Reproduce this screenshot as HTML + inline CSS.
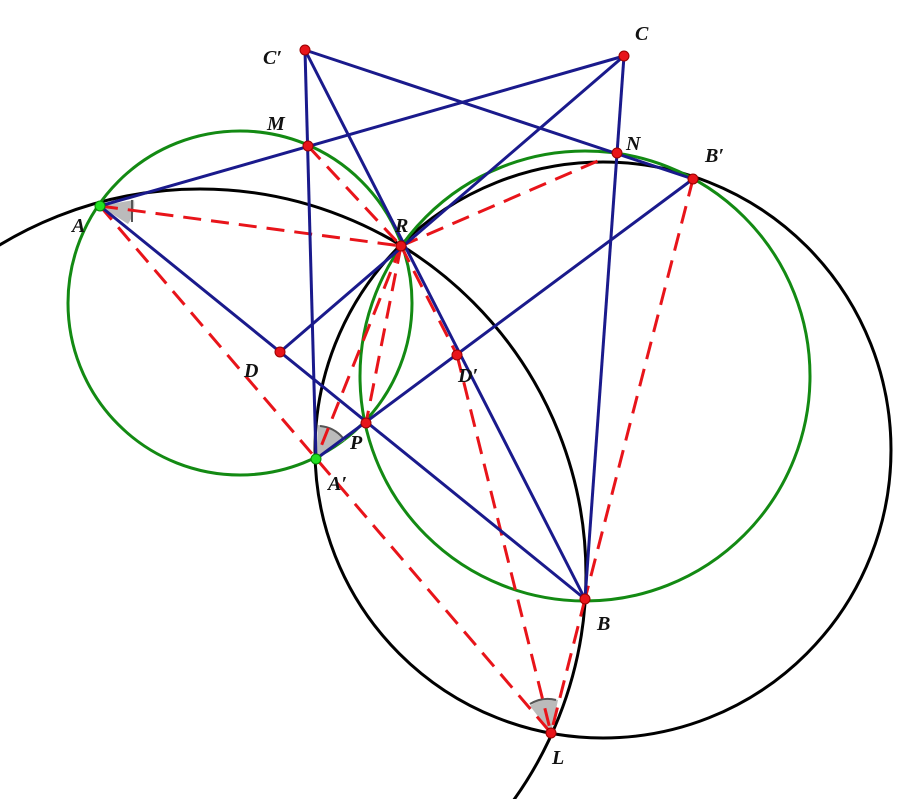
<!DOCTYPE html>
<html><head><meta charset="utf-8"><style>html,body{margin:0;padding:0;background:#fff;width:898px;height:799px;overflow:hidden}svg{display:block}</style></head>
<body>
<svg width="898" height="799" viewBox="0 0 898 799" xmlns="http://www.w3.org/2000/svg">
<g fill="none" stroke-width="3">
<circle cx="200" cy="575" r="386" stroke="#000"/>
<circle cx="603" cy="450" r="288" stroke="#000"/>
<circle cx="240" cy="303" r="172" stroke="#138a13"/>
<circle cx="585" cy="376" r="225" stroke="#138a13"/>
</g>
<g fill="#bbb" stroke="#555" stroke-width="2">
<path d="M100,206 L134,200 A34,34 0 0 1 128,224 Z" stroke="none"/>
<path d="M132,200 L132,222" />
<path d="M316,459 L318,425 A34,34 0 0 1 345,440 Z" stroke="none"/>
<path d="M320,426 A34,34 0 0 1 343,438"/>
<path d="M551,733 L530,706 A34,34 0 0 1 558,700 Z" stroke="none"/>
<path d="M530,704 A34,34 0 0 1 556,700"/>
</g>
<g stroke="#e8141a" stroke-width="3" stroke-dasharray="18,10" fill="none">
<line x1="100" y1="206" x2="401" y2="246"/>
<line x1="100" y1="206" x2="551" y2="733"/>
<line x1="308" y1="146" x2="401" y2="246"/>
<line x1="401" y1="246" x2="600" y2="160"/>
<line x1="401" y1="246" x2="366" y2="423"/>
<line x1="401" y1="246" x2="316" y2="459"/>
<line x1="401" y1="246" x2="457" y2="355"/>
<line x1="457" y1="355" x2="551" y2="733"/>
<line x1="693" y1="179" x2="585" y2="599"/>
<line x1="585" y1="599" x2="551" y2="733"/>
</g>
<g stroke="#1a1a8c" stroke-width="3" fill="none">
<line x1="100" y1="206" x2="624" y2="56"/>
<line x1="305" y1="50" x2="693" y2="179"/>
<line x1="305" y1="50" x2="316" y2="459"/>
<line x1="305" y1="50" x2="585" y2="599"/>
<line x1="624" y1="56" x2="280" y2="352"/>
<line x1="624" y1="56" x2="585" y2="599"/>
<line x1="100" y1="206" x2="585" y2="599"/>
<line x1="693" y1="179" x2="316" y2="459"/>
</g>
<g fill="#e8141a" stroke="#900" stroke-width="1">
<circle cx="305" cy="50" r="5"/><circle cx="624" cy="56" r="5"/>
<circle cx="308" cy="146" r="5"/><circle cx="617" cy="153" r="5"/>
<circle cx="693" cy="179" r="5"/><circle cx="401" cy="246" r="5"/>
<circle cx="280" cy="352" r="5"/><circle cx="457" cy="355" r="5"/>
<circle cx="366" cy="423" r="5"/><circle cx="585" cy="599" r="5"/>
<circle cx="551" cy="733" r="5"/>
</g>
<g fill="#22e022" stroke="#080" stroke-width="1">
<circle cx="100" cy="206" r="5"/><circle cx="316" cy="459" r="5"/>
</g>
<g font-family="Liberation Serif, serif" font-style="italic" font-weight="bold" font-size="20" fill="#111">
<text x="263" y="64">C′</text>
<text x="635" y="40">C</text>
<text x="267" y="130">M</text>
<text x="626" y="150">N</text>
<text x="705" y="162">B′</text>
<text x="72" y="232">A</text>
<text x="395" y="232">R</text>
<text x="244" y="377">D</text>
<text x="458" y="382">D′</text>
<text x="350" y="449">P</text>
<text x="328" y="490">A′</text>
<text x="597" y="630">B</text>
<text x="552" y="764">L</text>
</g>
</svg>
</body></html>
